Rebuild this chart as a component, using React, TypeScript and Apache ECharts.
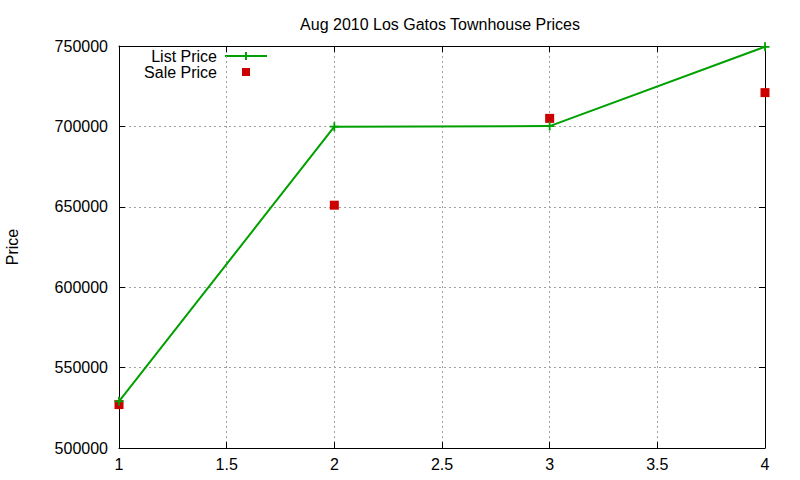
import React, { useEffect, useRef } from "react";
import * as echarts from "echarts";

const bedrooms = [1, 2, 3, 4];
const listPrices = [529000, 699800, 700200, 749500];
const salePrices = [527000, 651000, 705000, 721000];
const titleText = "Aug 2010 Los Gatos Townhouse Prices";
const yName = "Price";
const seriesNames = ["List Price", "Sale Price"];

const FONT = "Liberation Sans, Arial, sans-serif";
const GREEN = "#00a000";
const RED = "#cc0000";
const PLUS = "path://M4,0L6,0L6,4L10,4L10,6L6,6L6,10L4,10L4,6L0,6L0,4L4,4Z";

export default function App() {
  const ref = useRef<HTMLDivElement>(null);
  useEffect(() => {
    if (!ref.current) return;
    const chart = echarts.init(ref.current, null, { renderer: "svg" });
    const grid = { left: 119, right: 35, top: 46, bottom: 32 };
    const axisLine = { show: true, lineStyle: { color: "#000", width: 1 } };
    const tick = { show: true, inside: true, length: 6, lineStyle: { color: "#000" } };
    chart.setOption({
      animation: false,
      backgroundColor: "#fff",
      textStyle: { fontFamily: FONT },
      title: {
        text: titleText,
        left: 435,
        textAlign: "center",
        top: 11,
        textStyle: { fontSize: 16, fontWeight: "normal", color: "#000", fontFamily: FONT },
      },
      grid,
      xAxis: [
        {
          type: "value",
          min: 1,
          max: 4,
          interval: 0.5,
          axisLine,
          axisTick: tick,
          axisLabel: { color: "#000", fontSize: 16, margin: 8, fontFamily: FONT },
          splitLine: { show: true, lineStyle: { color: "#a0a0a0", type: [2, 3], width: 1 } },
        },
        {
          type: "value",
          position: "top",
          min: 1,
          max: 4,
          interval: 0.5,
          axisLine,
          axisTick: tick,
          axisLabel: { show: false },
          splitLine: { show: false },
        },
      ],
      yAxis: [
        {
          type: "value",
          min: 500000,
          max: 750000,
          interval: 50000,
          axisLine,
          axisTick: tick,
          axisLabel: {
            color: "#000",
            fontSize: 16,
            margin: 11,
            fontFamily: FONT,
            formatter: (v: number) => String(v),
          },
          splitLine: { show: true, lineStyle: { color: "#a0a0a0", type: [2, 3], width: 1 } },
        },
        {
          type: "value",
          position: "right",
          min: 500000,
          max: 750000,
          interval: 50000,
          axisLine,
          axisTick: tick,
          axisLabel: { show: false },
          splitLine: { show: false },
        },
      ],
      graphic: [
        {
          type: "text",
          x: 12,
          y: 247,
          rotation: Math.PI / 2,
          style: {
            text: yName,
            fill: "#000",
            font: `16px ${FONT}`,
            textAlign: "center",
            textVerticalAlign: "middle",
          },
        },
        {
          type: "text",
          x: 217,
          y: 56,
          style: {
            text: seriesNames[0],
            fill: "#000",
            font: `16px ${FONT}`,
            textAlign: "right",
            textVerticalAlign: "middle",
          },
        },
        {
          type: "line",
          shape: { x1: 225, y1: 56, x2: 267, y2: 56 },
          style: { stroke: GREEN, lineWidth: 2 },
        },
        {
          type: "line",
          shape: { x1: 246, y1: 52, x2: 246, y2: 60 },
          style: { stroke: GREEN, lineWidth: 2 },
        },
        {
          type: "text",
          x: 217,
          y: 72,
          style: {
            text: seriesNames[1],
            fill: "#000",
            font: `16px ${FONT}`,
            textAlign: "right",
            textVerticalAlign: "middle",
          },
        },
        {
          type: "rect",
          shape: { x: 242, y: 68, width: 8, height: 8 },
          style: { fill: RED },
        },
      ],
      series: [
        {
          name: seriesNames[0],
          type: "line",
          data: bedrooms.map((b, i) => [b, listPrices[i]]),
          lineStyle: { color: GREEN, width: 2 },
          itemStyle: { color: GREEN },
          symbol: PLUS,
          symbolSize: 9,
          showAllSymbol: true,
          z: 3,
        },
        {
          name: seriesNames[1],
          type: "scatter",
          data: bedrooms.map((b, i) => [b, salePrices[i]]),
          itemStyle: { color: RED, opacity: 1 },
          symbol: "rect",
          symbolSize: 9,
          z: 2,
        },
      ],
    });
    return () => chart.dispose();
  }, []);
  return <div ref={ref} style={{ width: 800, height: 480, position: "fixed", left: 0, top: 0 }} />;
}
